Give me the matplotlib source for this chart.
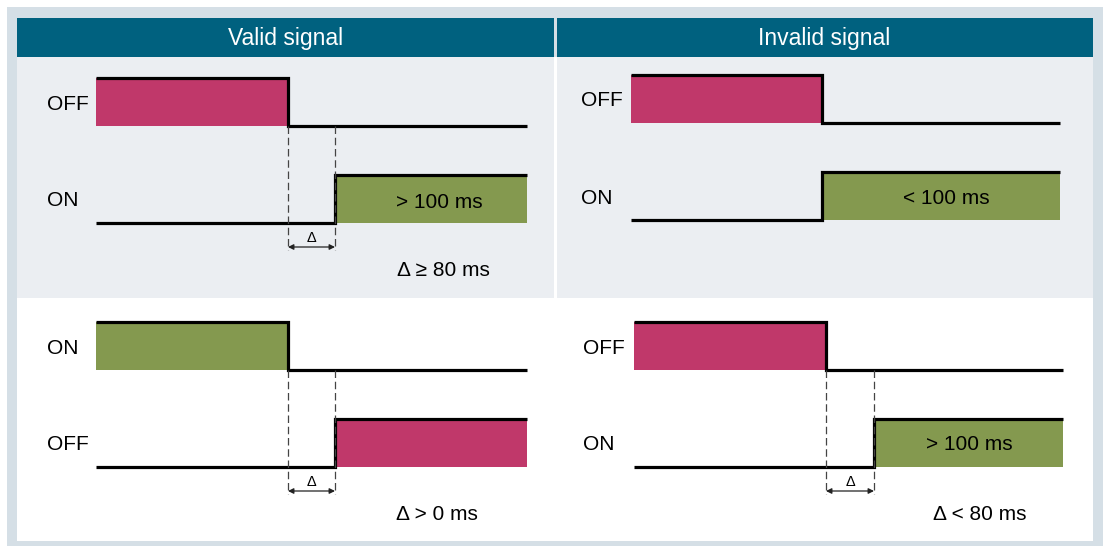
import matplotlib
matplotlib.use('Agg')
import matplotlib.pyplot as plt
from matplotlib.patches import Rectangle

plt.rcParams['font.family'] = ['Liberation Sans', 'DejaVu Sans']

# Colours
frame_color = '#d5dfe6'
header_color = '#00617f'
top_bg = '#ebeef2'
pink = '#c0386a'
green = '#84994f'

# Panel contents (pixel coordinates of the picture, y pointing down)
headers = ['Valid signal', 'Invalid signal']
header_x = [286, 824]

# each panel: label of upper/lower signal, x start, first edge, second edge, x end
panel_labels = [('OFF', 'ON'), ('OFF', 'ON'), ('ON', 'OFF'), ('OFF', 'ON')]
panel_x0 = [96, 631, 96, 634]
panel_edge1 = [288, 822, 288, 826]
panel_edge2 = [335, 822, 335, 874]
panel_x1 = [527, 1060, 527, 1063]
panel_top = [78, 75, 322, 322]
panel_label_x = [47, 581, 47, 583]
panel_colors = [(pink, green), (pink, green), (green, pink), (pink, green)]
box_texts = ['> 100 ms', '< 100 ms', '', '> 100 ms']
box_text_pos = [(439, 202), (946, 198), None, (969, 444)]
delta_texts = ['Δ ≥ 80 ms', None, 'Δ > 0 ms', 'Δ < 80 ms']
delta_text_pos = [(443, 271), None, (437, 515), (980, 514)]

sig_h = 48    # height of a signal pulse
row_gap = 97  # vertical distance between upper and lower signal

fig = plt.figure(figsize=(11.05, 5.47), dpi=100)
ax = fig.add_axes([0, 0, 1, 1])
ax.set_xlim(0, 1105)
ax.set_ylim(547, 0)
ax.axis('off')

# Frame and backgrounds
ax.add_patch(Rectangle((7, 7), 1096, 539, color=frame_color, lw=0))
ax.add_patch(Rectangle((17, 57), 1076, 484, color='white', lw=0))
ax.add_patch(Rectangle((17, 57), 537, 241, color=top_bg, lw=0))
ax.add_patch(Rectangle((557, 57), 536, 241, color=top_bg, lw=0))
ax.add_patch(Rectangle((17, 18), 537, 39, color=header_color, lw=0))
ax.add_patch(Rectangle((557, 18), 536, 39, color=header_color, lw=0))
for hx, ht in zip(header_x, headers):
    ax.text(hx, 39, ht, color='white', fontsize=16.5, ha='center', va='center')

lw = 2.3
fs = 15
for i in range(4):
    x0, e1, e2, x1 = panel_x0[i], panel_edge1[i], panel_edge2[i], panel_x1[i]
    yt = panel_top[i]
    yb = yt + sig_h
    yt2 = yt + row_gap
    yb2 = yt2 + sig_h
    c_up, c_low = panel_colors[i]

    # upper signal: high until edge1, then low
    ax.add_patch(Rectangle((x0, yt), e1 - x0, sig_h, color=c_up, lw=0))
    ax.plot([x0, e1, e1, x1], [yt, yt, yb, yb], color='black', lw=lw,
            solid_joinstyle='miter', solid_capstyle='butt')
    # lower signal: low until edge2, then high
    ax.add_patch(Rectangle((e2, yt2), x1 - e2, sig_h, color=c_low, lw=0))
    ax.plot([x0, e2, e2, x1], [yb2, yb2, yt2, yt2], color='black', lw=lw,
            solid_joinstyle='miter', solid_capstyle='butt')

    ax.text(panel_label_x[i], (yt + yb) / 2 + 2, panel_labels[i][0], fontsize=fs,
            ha='left', va='center')
    ax.text(panel_label_x[i], (yt2 + yb2) / 2 + 2, panel_labels[i][1], fontsize=fs,
            ha='left', va='center')

    if box_texts[i]:
        bx, by = box_text_pos[i]
        ax.text(bx, by, box_texts[i], fontsize=fs, ha='center', va='center')

    if delta_texts[i]:
        # dashed guide lines and the delta arrow
        ya = yb2 + 24
        for xe in (e1, e2):
            ax.plot([xe, xe], [yb, ya + 3], color='#444444', lw=0.9,
                    dashes=(6, 3))
        ax.annotate('', xy=(e1, ya), xytext=(e2, ya),
                    arrowprops=dict(arrowstyle='<|-|>', color='#222222', lw=0.9,
                                    mutation_scale=8, shrinkA=0, shrinkB=0))
        ax.text((e1 + e2) / 2, ya - 9, 'Δ', fontsize=10.5, ha='center', va='center')
        dx, dy = delta_text_pos[i]
        ax.text(dx, dy, delta_texts[i], fontsize=fs, ha='center', va='center')

fig.savefig('out.png', dpi=100)
